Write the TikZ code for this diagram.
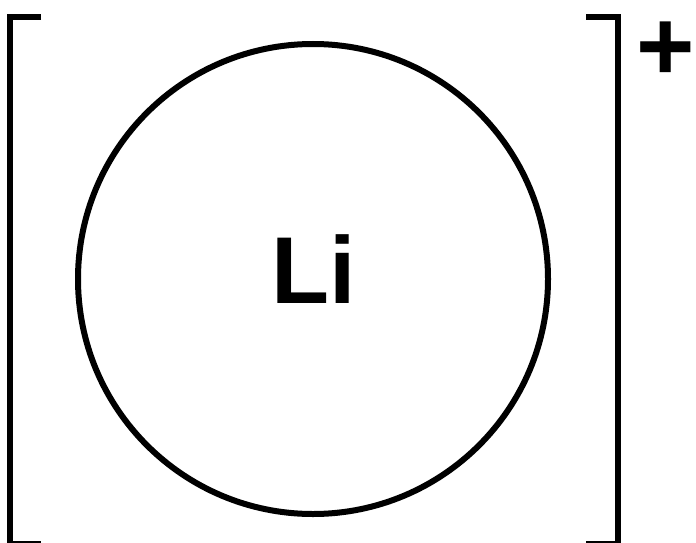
\documentclass[tikz,border=0pt]{standalone}
\usepackage{fontspec}
\setmainfont{Liberation Sans}
\begin{document}
\begin{tikzpicture}[x=1pt,y=-1pt,
  line/.style={line width=6pt, line cap=butt, line join=miter},
  lbl/.style={font=\bfseries\fontsize{95}{95}\selectfont, inner sep=0pt}]
\useasboundingbox (0,0) rectangle (696,543);
\clip (0,0) rectangle (696,543);
\draw[line] (41,17) -- (9.5,17) -- (9.5,544) -- (41,544);
\draw[line] (586,17) -- (617.5,17) -- (617.5,544) -- (586,544);
\node[line width=6pt, draw, circle, minimum size=470pt, inner sep=0pt] (atom) at (313,279) {};
\node[lbl, anchor=base] (li) at (314,303) {Li};
\node[lbl, font=\bfseries\fontsize{100}{100}\selectfont, anchor=center] (charge) at (666,51) {+};
\end{tikzpicture}
\end{document}
